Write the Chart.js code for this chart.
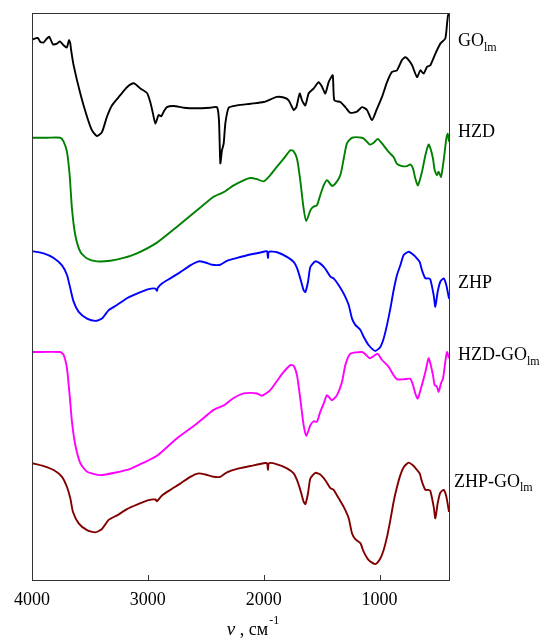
<!DOCTYPE html>
<html>
<head>
<meta charset="utf-8">
<script src="https://cdn.jsdelivr.net/npm/chart.js@4/dist/chart.umd.min.js"></script>
<style>
html,body{margin:0;padding:0;background:#fff;}
#wrap{position:relative;width:541px;height:639px;}
</style>
</head>
<body>
<div id="wrap"><canvas id="c" width="541" height="639"></canvas></div>
<script>
// Wavenumbers (cm^-1) and stacked transmittance (a.u.)
const wnGO = [4000,3950,3928,3900,3871,3850,3820,3784,3760,3727,3700,3680,3669,3664,3641,3583,3525,3482,3439,3396,3353,3310,3238,3180,3122,3065,3007,2979,2956,2935,2907,2884,2863,2835,2777,2691,2576,2461,2403,2386,2374,2360,2345,2331,2302,2230,2115,2000,1885,1827,1784,1741,1718,1689,1669,1640,1612,1568,1525,1496,1468,1439,1404,1390,1338,1295,1252,1194,1151,1108,1065,1022,978,935,892,849,806,777,748,719,676,647,619,590,561,518,475,432,417,409,400];
const tGO  = [95.3,95.6,94.9,94.8,95.5,95.8,94.5,94.6,95.0,94.3,93.9,95.2,94.6,93.7,90.8,85.8,81.7,79.3,78.3,79.0,81.7,83.7,85.5,86.9,87.6,86.7,85.9,84.3,82.3,80.5,82.0,81.8,82.6,83.4,83.6,83.3,83.2,83.3,83.4,81.1,73.5,75.8,77.0,80.5,83.3,83.7,84.0,84.3,85.2,85.1,84.6,82.9,83.4,85.8,84.6,83.7,85.8,86.7,87.8,87.0,85.8,87.8,89.0,84.6,84.3,83.4,82.4,82.6,83.4,82.9,81.1,83.1,85.2,87.8,89.6,89.9,91.7,92.2,91.7,90.8,88.7,89.9,89.3,90.5,90.8,92.8,94.6,95.5,98.1,99.5,100];

const wnHZD = [4000,3871,3756,3727,3698,3675,3655,3626,3583,3525,3439,3324,3209,3094,2921,2748,2576,2432,2345,2259,2173,2115,2058,2000,1943,1885,1827,1770,1741,1712,1684,1655,1632,1597,1574,1540,1511,1482,1453,1410,1381,1338,1309,1281,1237,1151,1122,1085,1050,1016,978,921,878,849,806,762,734,711,691,668,633,604,576,561,538,524,504,489,469,452,437,423,411,400];
const tHZD  = [78.0,78.0,78.0,77.3,75.5,71.4,65.5,60.8,57.9,56.7,56.2,56.3,56.8,57.6,59.5,62.3,65.2,67.6,68.4,69.6,70.5,70.9,70.7,70.3,71.4,72.9,74.3,75.8,75.6,74.3,70.5,65.5,63.3,65.2,65.8,66.1,67.9,69.6,70.5,69.5,69.9,71.4,74.3,77.0,78.0,78.0,77.6,76.8,77.1,77.8,77.0,75.5,74.6,73.4,73.0,73.0,73.3,72.6,70.8,69.6,72.0,74.9,76.8,76.2,74.3,72.3,71.4,72.0,71.1,73.1,75.5,77.9,78.7,77.3];

const wnZHP = [4000,3900,3813,3741,3698,3669,3641,3597,3525,3453,3396,3338,3266,3180,3094,2993,2935,2921,2915,2878,2806,2720,2633,2561,2504,2446,2374,2317,2230,2115,2000,1971,1963,1954,1885,1799,1741,1712,1684,1655,1640,1617,1597,1554,1511,1468,1424,1396,1352,1309,1266,1237,1209,1165,1137,1093,1036,993,964,935,906,878,849,820,791,748,705,676,653,633,604,576,561,532,518,498,475,446,423,400];
const tZHP  = [58.0,57.6,56.8,55.5,53.8,51.4,49.1,47.3,46.1,45.7,46.1,47.6,48.5,49.7,50.5,51.3,51.4,51.0,51.5,52.3,53.2,54.3,55.5,56.2,56.0,55.6,55.6,56.3,56.8,57.4,57.9,58.0,56.8,57.9,57.8,57.0,56.1,55.0,53.2,51.1,50.8,52.6,55.2,56.2,55.8,54.9,53.5,53.2,52.0,50.5,48.5,46.1,45.0,44.1,42.9,41.4,40.4,41.1,42.6,45.0,47.9,51.1,53.8,55.5,57.3,57.9,57.3,56.7,56.1,54.6,53.2,53.2,53.0,50.2,48.2,50.8,52.6,53.2,52.0,49.6];

const wnHZDGO = [4000,3756,3727,3698,3675,3655,3626,3583,3525,3410,3266,3151,3036,2921,2748,2576,2432,2345,2259,2173,2115,2058,2014,1943,1885,1827,1770,1741,1712,1684,1655,1632,1597,1568,1540,1511,1482,1453,1410,1367,1324,1295,1252,1151,1122,1085,1050,1016,978,921,878,849,791,734,711,691,670,642,604,576,561,538,524,504,489,469,452,432,417,400];
const tHZDGO  = [40.2,40.2,39.7,37.3,32.6,27.9,23.8,20.6,19.1,18.5,19.0,19.6,20.7,21.9,25.0,27.6,30.0,30.8,32.1,32.9,33.0,32.9,32.5,33.5,35.1,36.7,37.9,37.8,36.1,32.0,27.3,25.4,27.3,28.0,27.9,29.7,31.1,32.6,31.7,32.6,34.9,37.9,39.9,40.2,39.8,39.1,39.5,39.9,38.8,37.6,36.1,35.4,35.4,35.5,34.4,32.9,32.0,33.8,36.7,39.1,38.2,36.1,34.4,34.1,33.2,34.7,35.5,38.5,40.2,39.1];

const wnZHPGO = [4000,3900,3813,3741,3698,3669,3646,3597,3525,3453,3396,3338,3266,3180,3094,2993,2935,2921,2878,2806,2720,2633,2561,2504,2432,2374,2317,2230,2115,2000,1971,1963,1954,1885,1799,1741,1712,1684,1655,1640,1617,1597,1554,1511,1468,1424,1396,1352,1309,1266,1237,1209,1165,1137,1093,1036,993,964,935,906,878,849,820,791,748,705,676,653,633,604,576,561,532,518,498,475,446,423,400];
const tZHPGO  = [20.6,20.1,19.4,18.2,16.4,14.4,12.0,10.0,8.8,8.4,9.0,10.6,11.4,12.5,13.3,14.1,14.2,13.9,14.9,15.9,17.0,18.2,18.8,18.6,18.2,18.2,19.0,19.6,20.1,20.6,20.6,19.4,20.6,20.4,19.7,18.8,17.6,15.9,13.8,13.4,15.3,17.9,18.9,18.6,17.6,16.2,15.9,14.4,12.9,10.9,8.2,7.2,6.5,5.0,3.5,2.8,3.8,5.3,7.6,10.6,13.8,16.4,18.5,19.9,20.7,20.1,19.4,18.8,17.3,15.9,15.9,15.7,12.9,10.9,13.5,15.4,15.9,14.7,12.0];

const seriesNames = ['GO', 'HZD', 'ZHP', 'HZD-GO', 'ZHP-GO'];
const seriesSubs  = ['lm', '', '', 'lm', 'lm'];
const seriesColors = ['#000000', '#008000', '#0000ff', '#ff00ff', '#800000'];
const labelLevels = [95.0, 79.0, 52.3, 39.6, 17.3];   // a.u. level of each curve label
const xTicks = [4000, 3000, 2000, 1000];

const allWn = [wnGO, wnHZD, wnZHP, wnHZDGO, wnZHPGO];
const allT  = [tGO, tHZD, tZHP, tHZDGO, tZHPGO];

const datasets = allWn.map((wn, i) => ({
  label: seriesNames[i] + seriesSubs[i],
  data: wn.map((w, j) => ({x: w, y: allT[i][j]})),
  borderColor: seriesColors[i],
  backgroundColor: seriesColors[i],
  borderWidth: 1.9,
  pointRadius: 0,
  showLine: true,
  tension: 0.2,
  fill: false
}));

const serif = "'Liberation Serif', 'Times New Roman', serif";

const decor = {
  id: 'decor',
  afterDraw(chart) {
    const ctx = chart.ctx;
    const a = chart.chartArea;
    const xs = chart.scales.x, ys = chart.scales.y;
    ctx.save();
    // frame
    ctx.strokeStyle = '#333';
    ctx.lineWidth = 1;
    ctx.strokeRect(Math.round(a.left) + 0.5, Math.round(a.top) + 0.5, Math.round(a.right - a.left), Math.round(a.bottom - a.top));
    // inward tick marks
    xTicks.forEach(v => {
      const px = Math.round(xs.getPixelForValue(v)) + 0.5;
      ctx.beginPath();
      ctx.moveTo(px, a.bottom);
      ctx.lineTo(px, a.bottom - 5);
      ctx.stroke();
    });
    // curve labels
    ctx.fillStyle = '#000';
    ctx.textBaseline = 'middle';
    seriesNames.forEach((n, i) => {
      const y = ys.getPixelForValue(labelLevels[i]);
      const x = a.right + (i === 4 ? 5 : 9);
      ctx.font = '18px ' + serif;
      ctx.fillText(n, x, y);
      if (seriesSubs[i]) {
        const w = ctx.measureText(n).width;
        ctx.font = '12px ' + serif;
        ctx.fillText(seriesSubs[i], x + w, y + 6);
      }
    });
    // axis title: ν , см^-1
    const cx = (a.left + a.right) / 2 + 12;
    const by = 635;
    ctx.textBaseline = 'alphabetic';
    ctx.font = 'italic 19px ' + serif;
    const nu = '\u03BD';
    const wNu = ctx.measureText(nu).width;
    ctx.font = '18px ' + serif;
    const mid = ' , \u0441\u043C';
    const wMid = ctx.measureText(mid).width;
    ctx.font = '12px ' + serif;
    const sup = '-1';
    const wSup = ctx.measureText(sup).width;
    let x0 = cx - (wNu + wMid + wSup) / 2;
    ctx.font = 'italic 19px ' + serif;
    ctx.fillText(nu, x0, by);
    ctx.font = '18px ' + serif;
    ctx.fillText(mid, x0 + wNu, by);
    ctx.font = '12px ' + serif;
    ctx.fillText(sup, x0 + wNu + wMid + 1, by - 11);
    ctx.restore();
  }
};

new Chart(document.getElementById('c'), {
  type: 'scatter',
  data: { datasets },
  options: {
    responsive: false,
    animation: false,
    events: [],
    layout: { padding: { left: 32, right: 92, top: 13, bottom: 0 } },
    plugins: { legend: { display: false }, tooltip: { enabled: false }, title: { display: false } },
    scales: {
      x: {
        type: 'linear',
        reverse: true,
        min: 400,
        max: 4000,
        border: { display: false },
        grid: { display: false, drawTicks: false },
        afterBuildTicks: (s) => { s.ticks = xTicks.map(v => ({ value: v })); },
        afterFit: (s) => { s.height = 59; },
        ticks: {
          padding: 9,
          color: '#000',
          font: { family: serif, size: 18 },
          maxRotation: 0,
          autoSkip: false,
          callback: (v) => String(v)
        }
      },
      y: {
        display: false,
        min: 0,
        max: 100
      }
    }
  },
  plugins: [decor]
});
</script>
</body>
</html>
